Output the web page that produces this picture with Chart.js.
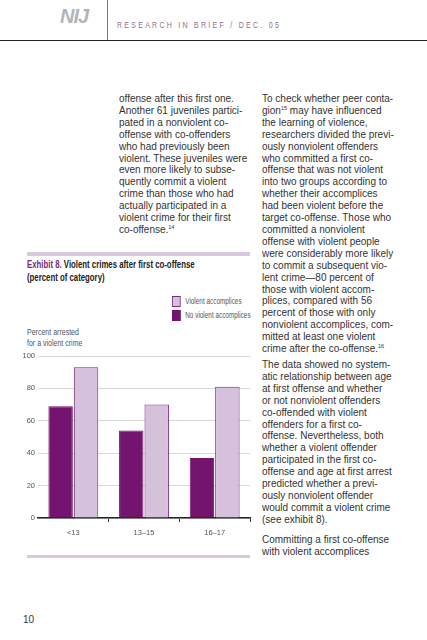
<!DOCTYPE html>
<html>
<head>
<meta charset="utf-8">
<script src="https://cdn.jsdelivr.net/npm/chart.js@4.4.1/dist/chart.umd.min.js"></script>
<style>
  html, body { margin: 0; padding: 0; background: #fff; }
  #page { position: relative; width: 427px; height: 640px; overflow: hidden; font-family: "Liberation Sans", Arial, sans-serif; }
  .abs { position: absolute; white-space: nowrap; }
  .body { font-size: 10px; line-height: 11.9px; color: #333; }
  sup { font-size: 5.5px; line-height: 0; vertical-align: 4px; }
  .narrow { font-family: "Liberation Sans", Arial, sans-serif; transform: scaleX(0.78); transform-origin: 0 0; }
  #legend .row { display: flex; align-items: center; height: 13.5px; }
  #legend .sw { width: 11px; height: 11px; margin-right: 6px; box-sizing: border-box; }
</style>
</head>
<body>
<div id="page">
  <!-- header -->
  <div class="abs" style="left:60px;top:5px;font-size:20px;font-weight:bold;font-style:italic;color:#b4b4b4;letter-spacing:-1px;">NIJ</div>
  <div class="abs" style="left:107px;top:0;width:1px;height:41px;background:#a05a9e;"></div>
  <div class="abs narrow" style="left:117px;top:20px;font-size:9px;letter-spacing:2.9px;color:#8c7190;">RESEARCH IN BRIEF / DEC. 05</div>
  <div class="abs" style="left:0;top:40px;width:427px;height:1px;background:#222;"></div>

  <!-- middle column -->
  <div class="abs body" style="left:119px;top:93px;">offense after this first one.<br>Another 61 juveniles partici-<br>pated in a nonviolent co-<br>offense with co-offenders<br>who had previously been<br>violent. These juveniles were<br>even more likely to subse-<br>quently commit a violent<br>crime than those who had<br>actually participated in a<br>violent crime for their first<br>co-offense.<sup>14</sup></div>

  <!-- right column -->
  <div class="abs body" style="left:262px;top:93px;">To check whether peer conta-<br>gion<sup>15</sup> may have influenced<br>the learning of violence,<br>researchers divided the previ-<br>ously nonviolent offenders<br>who committed a first co-<br>offense that was not violent<br>into two groups according to<br>whether their accomplices<br>had been violent before the<br>target co-offense. Those who<br>committed a nonviolent<br>offense with violent people<br>were considerably more likely<br>to commit a subsequent vio-<br>lent crime—80 percent of<br>those with violent accom-<br>plices, compared with 56<br>percent of those with only<br>nonviolent accomplices, com-<br>mitted at least one violent<br>crime after the co-offense.<sup>16</sup></div>
  <div class="abs body" style="left:262px;top:359px;">The data showed no system-<br>atic relationship between age<br>at first offense and whether<br>or not nonviolent offenders<br>co-offended with violent<br>offenders for a first co-<br>offense. Nevertheless, both<br>whether a violent offender<br>participated in the first co-<br>offense and age at first arrest<br>predicted whether a previ-<br>ously nonviolent offender<br>would commit a violent crime<br>(see exhibit 8).</div>
  <div class="abs body" style="left:262px;top:534px;">Committing a first co-offense<br>with violent accomplices</div>

  <!-- exhibit -->
  <div class="abs" style="left:27px;top:252px;width:223px;height:4px;background:#d9c8de;"></div>
  <div class="abs narrow" style="left:27px;top:259px;font-size:10px;line-height:12.5px;font-weight:bold;color:#222;"><span style="color:#7a2a78;">Exhibit 8.</span> Violent crimes after first co-offense<br>(percent of category)</div>
  <div id="legend" class="abs narrow" style="left:172px;top:295px;font-size:8.2px;color:#555;"></div>
  <div class="abs narrow" style="left:27px;top:327px;font-size:9px;line-height:11px;color:#555;">Percent arrested<br>for a violent crime</div>
  <div class="abs" style="left:20px;top:340px;width:240px;height:205px;">
    <canvas id="chart"></canvas>
  </div>
  <div class="abs" style="left:27px;top:555px;width:223px;height:3px;background:#d9c8de;"></div>

  <div class="abs" style="left:23px;top:614px;font-size:10px;color:#333;">10</div>
</div>

<script>
const ageGroups = ['<13', '13–15', '16–17']
const noViolentAccomplices = [69, 54, 37]
const violentAccomplices = [93, 70, 81]
const yTicks = [0, 20, 40, 60, 80, 100]

const series = [
  { label: 'No violent accomplices', data: noViolentAccomplices, fill: '#74146f', border: '#74146f' },
  { label: 'Violent accomplices', data: violentAccomplices, fill: '#d6c1dd', border: '#7d2a78' }
]

// legend lists light series first, like the printed exhibit
const legendBox = document.getElementById('legend')
series.slice().reverse().forEach(s => {
  const row = document.createElement('div')
  row.className = 'row'
  row.innerHTML = '<div class="sw" style="background:' + s.fill + ';border:1px solid ' + s.border + '"></div>' + s.label
  legendBox.appendChild(row)
})

Chart.defaults.font.family = '"Liberation Sans", Arial, sans-serif'
Chart.defaults.font.size = 7.5
Chart.defaults.color = '#555'

const ctx = document.getElementById('chart')

new Chart(ctx, {
  type: 'bar',
  data: {
    labels: ageGroups,
    datasets: series.map(s => ({
      label: s.label,
      data: s.data,
      backgroundColor: s.fill,
      borderColor: s.border,
      borderWidth: 1,
      barPercentage: 0.96,
      categoryPercentage: 0.72
    }))
  },
  options: {
    responsive: true,
    maintainAspectRatio: false,
    animation: false,
    layout: { padding: { top: 16, right: 10, left: 0, bottom: 0 } },
    plugins: {
      legend: { display: false },
      tooltip: { enabled: false }
    },
    scales: {
      x: {
        afterFit: (scale) => { scale.height = 27 },
        grid: {
          drawOnChartArea: false,
          drawTicks: true,
          tickLength: 4,
          color: (c) => (c.index === 0 || c.index === ageGroups.length) ? 'rgba(0,0,0,0)' : '#333'
        },
        border: { display: true, color: '#222', width: 1.5 },
        ticks: { padding: 6, color: '#555' }
      },
      y: {
        min: 0,
        max: 100,
        afterFit: (scale) => { scale.width = 18 },
        afterBuildTicks: (scale) => { scale.ticks = yTicks.map(v => ({ value: v })) },
        grid: { color: '#d9d9d9', drawTicks: false },
        border: { display: false },
        ticks: { padding: 3, color: '#555' }
      }
    }
  }
})
</script>
</body>
</html>
